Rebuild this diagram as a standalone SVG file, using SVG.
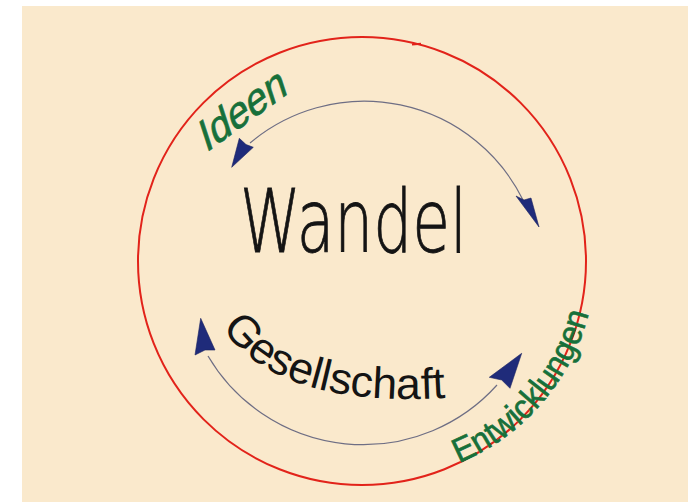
<svg xmlns="http://www.w3.org/2000/svg" width="688" height="502" viewBox="0 0 688 502">
<defs>
<style>
.hand{font-family:"Liberation Sans","DejaVu Sans",sans-serif;}
.thin{font-family:"DejaVu Sans","Liberation Sans",sans-serif;font-weight:200;stroke:#141414;stroke-width:0.9;}
.green{fill:#17703a;stroke:#17703a;stroke-width:0.7;}
.black{fill:#141414;}
.red{fill:none;stroke:#e2231a;stroke-width:2;}
.arc{fill:none;stroke:#6e6e84;stroke-width:1.2;}
.head{fill:#1f2b7a;stroke:#1a2260;stroke-width:0.6;stroke-linejoin:round;}
</style>
<path id="gesPath" d="M 222 328 Q 282 414 470 396"/>
<path id="entPath" d="M 459 463 A 221 221 0 0 0 591 304"/>
</defs>
<rect x="0" y="0" width="688" height="502" fill="#ffffff"/>
<rect x="22" y="6" width="666" height="496" fill="#fae9cc"/>

<g id="circle">
<circle class="red" cx="362" cy="261" r="224"/>
<path class="red" d="M 412 44.5 L 421 43.8" stroke-width="1.3"/>
</g>

<g id="connectors">
<path class="arc" d="M 250 143 A 177 177 0 0 1 523 200"/>
<path class="arc" d="M 208 356 A 180 180 0 0 0 497 385"/>
<polygon class="head" points="231.7,167.3 239.3,138.3 246,144.5 253.3,147.3"/>
<polygon class="head" points="539,227 516,196 524,200 531,198"/>
<polygon class="head" points="200.7,318.3 195,355 205,350 215,350"/>
<polygon class="head" points="521.7,353.3 489.3,377.3 501.7,380 510,388.3"/>
</g>

<g id="wandel">
<text class="thin black" x="240" y="252" font-size="88" textLength="227" lengthAdjust="spacingAndGlyphs">Wandel</text>
</g>

<g id="ideen">
<text class="hand green" x="0" y="0" font-size="42" textLength="102" lengthAdjust="spacingAndGlyphs" transform="translate(206,153) rotate(-36) skewX(-18)">Ideen</text>
</g>

<g id="entwicklungen">
<text class="hand green" font-size="34"><textPath href="#entPath" textLength="205" lengthAdjust="spacingAndGlyphs">Entwicklungen</textPath></text>
</g>

<g id="gesellschaft">
<text class="hand black" font-size="44"><textPath href="#gesPath" textLength="245" lengthAdjust="spacingAndGlyphs">Gesellschaft</textPath></text>
</g>
</svg>
